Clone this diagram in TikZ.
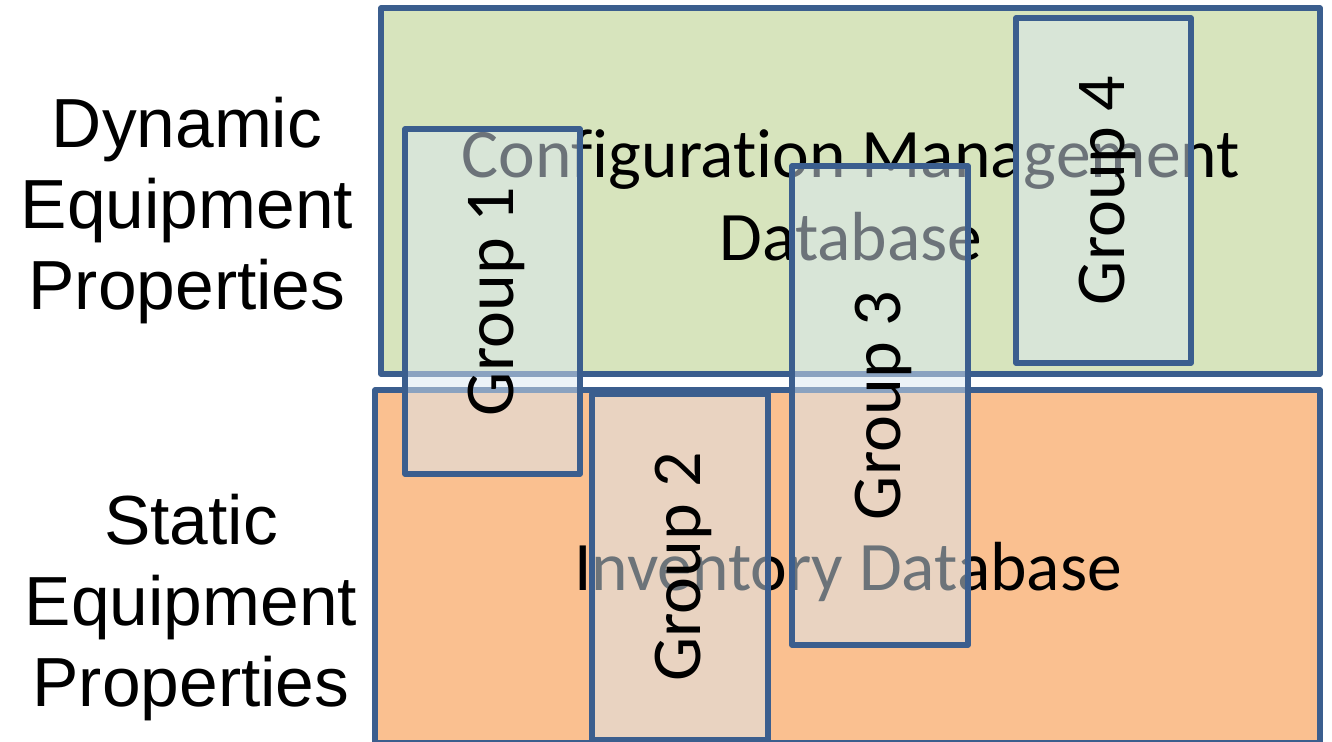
\documentclass[tikz,border=0pt]{standalone}
\usepackage{fontspec}
\setmainfont{Carlito}[Ligatures=NoCommon]
\newfontfamily\arialfont{Liberation Sans}
\definecolor{cmdbgreen}{HTML}{D7E4BD}
\definecolor{invorange}{HTML}{FAC090}
\definecolor{boxblue}{HTML}{3B5E8E}
\definecolor{groupblue}{HTML}{D9E7F2}

\begin{document}
\begin{tikzpicture}[x=1pt, y=-1pt,
  dbbox/.style={draw=boxblue, line width=5.4pt, line join=round},
  groupbox/.style={draw=boxblue, line width=5.4pt, line join=round, fill=groupblue,
    fill opacity=0.5, text opacity=1, rotate=90, inner sep=0pt, text depth=0.36em,
    font=\fontsize{70}{84}\selectfont},
  dbtext/.style={align=center, font=\fontsize{69.5}{83}\selectfont},
  sidetext/.style={align=center, font=\arialfont\fontsize{69.5}{81}\selectfont}]
\useasboundingbox (0,0) rectangle (1332,741);

% the two databases
\draw[dbbox, fill=cmdbgreen] (381,8) rectangle (1320,374);
\draw[dbbox, fill=invorange] (375,390) rectangle (1320,743);
\node[dbtext] (cmdb) at (851,195) {Configuration Management\\Database};
\node[dbtext] (inv) at (848,572) {Inventory Database};

% the groups, drawn over the databases
\node[groupbox, minimum width=345pt, minimum height=175pt] (g1) at (492.5,301.5) {Group 1};
\node[groupbox, minimum width=346pt, minimum height=176pt] (g2) at (680,567) {Group 2};
\node[groupbox, minimum width=479pt, minimum height=176pt] (g3) at (880,405.5) {Group 3};
\node[groupbox, minimum width=345pt, minimum height=175pt] (g4) at (1103.5,190.5) {Group 4};

% labels on the left
\node[sidetext] (dyn) at (187,211) {Dynamic\\Equipment\\Properties};
\node[sidetext] (stat) at (191,608) {Static\\Equipment\\Properties};
\end{tikzpicture}
\end{document}
